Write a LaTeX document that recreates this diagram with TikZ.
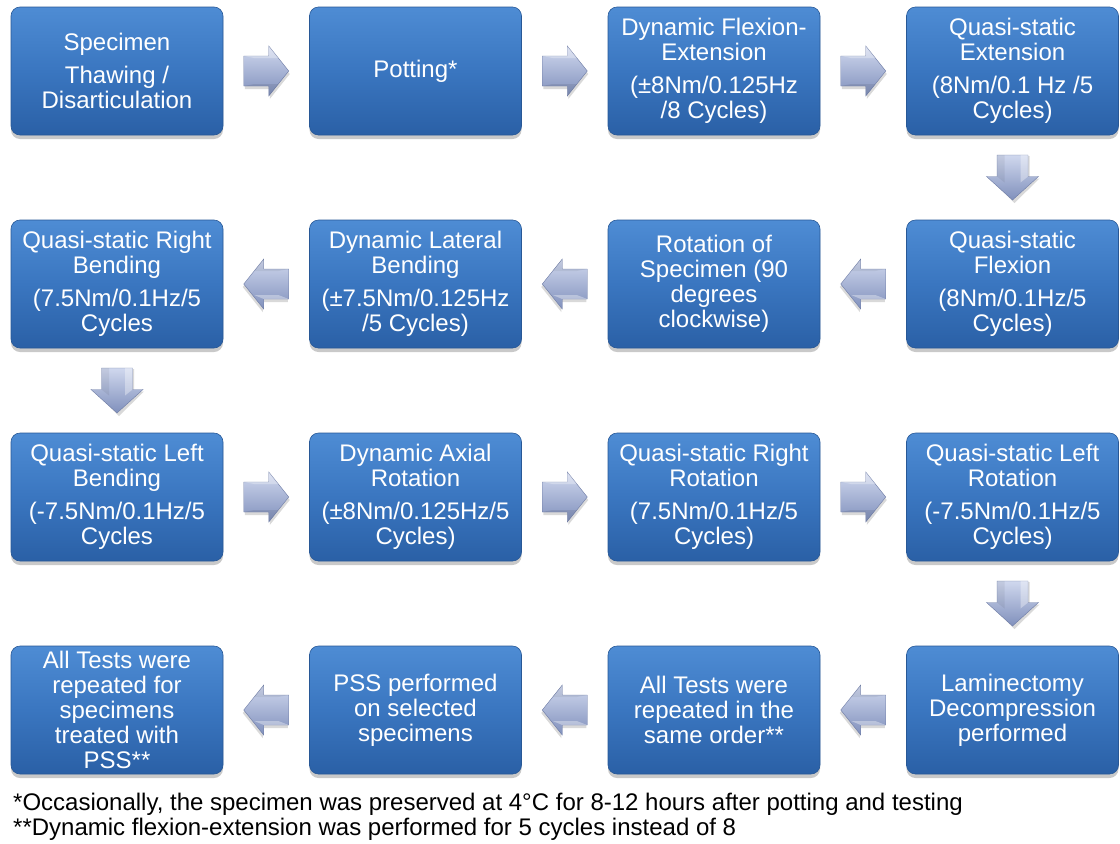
\documentclass[tikz,border=0pt]{standalone}
\usepackage{fontspec}
\setmainfont{Liberation Sans}
\usetikzlibrary{shadows,calc}
\definecolor{boxtop}{RGB}{78,140,212}
\definecolor{boxmid}{RGB}{58,118,192}
\definecolor{boxbot}{RGB}{42,96,166}
\definecolor{boxedge}{RGB}{40,88,150}
\definecolor{arrlight}{RGB}{208,216,238}
\definecolor{arrdark}{RGB}{128,144,188}
\definecolor{arredge}{RGB}{110,124,165}
\begin{document}
\begin{tikzpicture}[x=1pt,y=1pt,
  stage/.style={rounded corners=9pt, top color=boxtop, bottom color=boxbot, middle color=boxmid,
    draw=boxedge, line width=0.6pt, minimum width=212pt, minimum height=128pt, inner sep=1pt,
    align=center, text=white, font=\fontsize{24}{25}\selectfont,
    drop shadow={shadow xshift=0pt, shadow yshift=-4pt, opacity=0.3, fill=black!70}},
  note/.style={anchor=west, inner sep=0pt, font=\fontsize{24}{25}\selectfont, text=black},
  arrbody/.style={top color=arrlight, bottom color=arrdark, draw=arredge, line width=0.4pt},
  arrshadow/.style={fill=black, opacity=0.15},
  rarrow/.pic={
    \fill[arrshadow] (-21.5,12) -- (3.5,12) -- (3.5,22) -- (23.5,-3) -- (3.5,-28) -- (3.5,-18) -- (-21.5,-18) -- cycle;
    \path[arrbody] (-22.5,15) -- (2.5,15) -- (2.5,25) -- (22.5,0) -- (2.5,-25) -- (2.5,-15) -- (-22.5,-15) -- cycle;
    \fill[white, opacity=0.3] (-22.5,15) -- (2.5,15) -- (2.5,25) -- (12,13) -- (-12,13) -- cycle;
    \fill[black, opacity=0.08] (-22.5,-15) -- (2.5,-15) -- (2.5,-25) -- (12,-13) -- (-12,-13) -- cycle;
  },
  larrow/.pic={
    \fill[arrshadow] (21.5,12) -- (-3.5,12) -- (-3.5,22) -- (-23.5,-3) -- (-3.5,-28) -- (-3.5,-18) -- (21.5,-18) -- cycle;
    \path[arrbody] (22.5,15) -- (-2.5,15) -- (-2.5,25) -- (-22.5,0) -- (-2.5,-25) -- (-2.5,-15) -- (22.5,-15) -- cycle;
    \fill[black, opacity=0.06] (22.5,15) -- (-2.5,15) -- (-2.5,25) -- (-12,13) -- (12,13) -- cycle;
    \fill[white, opacity=0.35] (22.5,-15) -- (-2.5,-15) -- (-12,-11) -- (12,-11) -- cycle;
  },
  darrow/.pic={
    \fill[arrshadow] (-13,21.5) -- (-13,-1) -- (-23,-1) -- (2,-25.5) -- (27,-1) -- (17,-1) -- (17,21.5) -- cycle;
    \path[arrbody] (-15.5,22.5) -- (-15.5,1) -- (-26,1) -- (0,-22.5) -- (26,1) -- (15.5,1) -- (15.5,22.5) -- cycle;
    \fill[white, opacity=0.35] (15.5,22.5) -- (15.5,1) -- (8,-5) -- (8,22.5) -- cycle;
    \fill[black, opacity=0.06] (-15.5,22.5) -- (-15.5,1) -- (-8,-5) -- (-8,22.5) -- cycle;
  }]
\useasboundingbox (0,0) rectangle (1120,-844);
% row 1
\node[stage] (a1) at (117,-71) {Specimen\\[8pt]Thawing /\\Disarticulation};
\node[stage] (a2) at (415.5,-71) {Potting*};
\node[stage] (a3) at (714,-71) {Dynamic Flexion-\\Extension\\[8pt](±8Nm/0.125Hz\\/8 Cycles)};
\node[stage] (a4) at (1012.5,-71) {Quasi-static\\Extension\\[8pt](8Nm/0.1 Hz /5\\Cycles)};
% row 2
\node[stage] (b4) at (1012.5,-284) {Quasi-static\\Flexion\\[8pt](8Nm/0.1Hz/5\\Cycles)};
\node[stage] (b3) at (714,-284) {Rotation of\\Specimen (90\\degrees\\clockwise)};
\node[stage] (b2) at (415.5,-284) {Dynamic Lateral\\Bending\\[8pt](±7.5Nm/0.125Hz\\/5 Cycles)};
\node[stage] (b1) at (117,-284) {Quasi-static Right\\Bending\\[8pt](7.5Nm/0.1Hz/5\\Cycles};
% row 3
\node[stage] (c1) at (117,-497) {Quasi-static Left\\Bending\\[8pt](-7.5Nm/0.1Hz/5\\Cycles};
\node[stage] (c2) at (415.5,-497) {Dynamic Axial\\Rotation\\[8pt](±8Nm/0.125Hz/5\\Cycles)};
\node[stage] (c3) at (714,-497) {Quasi-static Right\\Rotation\\[8pt](7.5Nm/0.1Hz/5\\Cycles)};
\node[stage] (c4) at (1012.5,-497) {Quasi-static Left\\Rotation\\[8pt](-7.5Nm/0.1Hz/5\\Cycles)};
% row 4
\node[stage] (d4) at (1012.5,-710) {Laminectomy\\Decompression\\performed};
\node[stage] (d3) at (714,-710) {All Tests were\\repeated in the\\same order**};
\node[stage] (d2) at (415.5,-710) {PSS performed\\on selected\\specimens};
\node[stage] (d1) at (117,-710) {All Tests were\\repeated for\\specimens\\treated with\\PSS**};
% arrows
\pic at ($(a1.east)!0.5!(a2.west)$) {rarrow};
\pic at ($(a2.east)!0.5!(a3.west)$) {rarrow};
\pic at ($(a3.east)!0.5!(a4.west)$) {rarrow};
\pic at ($(a4.south)!0.5!(b4.north)$) {darrow};
\pic at ($(b4.west)!0.5!(b3.east)$) {larrow};
\pic at ($(b3.west)!0.5!(b2.east)$) {larrow};
\pic at ($(b2.west)!0.5!(b1.east)$) {larrow};
\pic at ($(b1.south)!0.5!(c1.north)$) {darrow};
\pic at ($(c1.east)!0.5!(c2.west)$) {rarrow};
\pic at ($(c2.east)!0.5!(c3.west)$) {rarrow};
\pic at ($(c3.east)!0.5!(c4.west)$) {rarrow};
\pic at ($(c4.south)!0.5!(d4.north)$) {darrow};
\pic at ($(d4.west)!0.5!(d3.east)$) {larrow};
\pic at ($(d3.west)!0.5!(d2.east)$) {larrow};
\pic at ($(d2.west)!0.5!(d1.east)$) {larrow};
% notes
\node[note] (n1) at (13,-804) {*Occasionally, the specimen was preserved at 4°C for 8-12 hours after potting and testing};
\node[note] (n2) at (13,-829) {**Dynamic flexion-extension was performed for 5 cycles instead of 8};
\end{tikzpicture}
\end{document}
